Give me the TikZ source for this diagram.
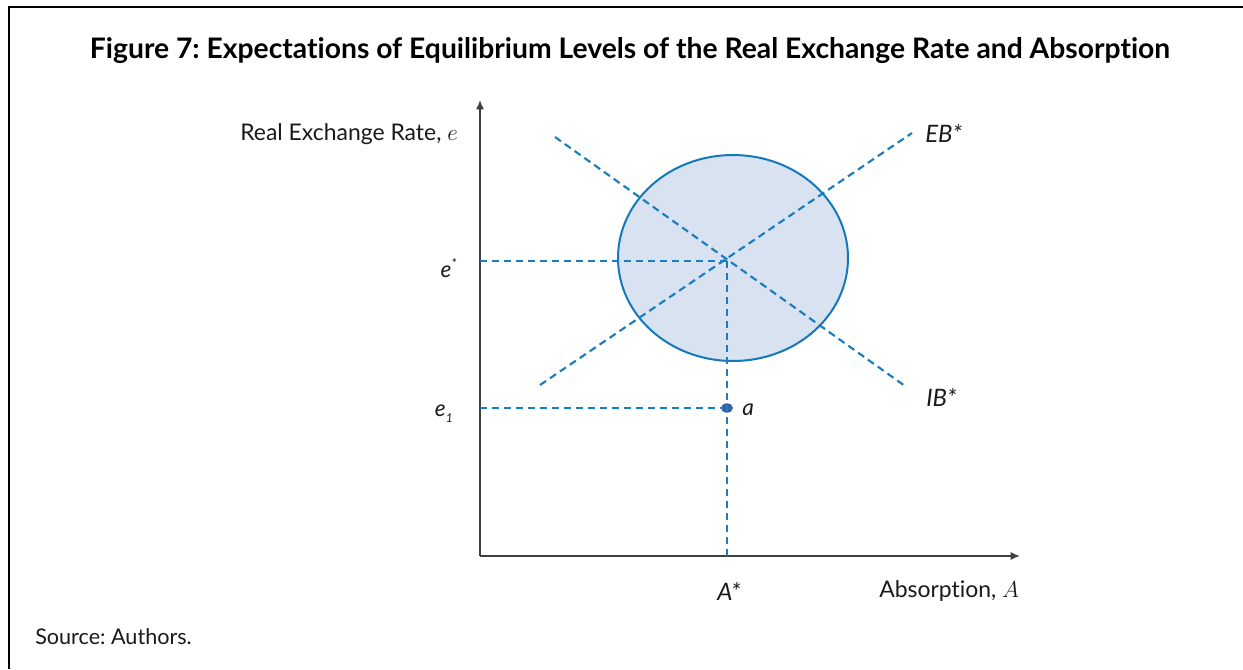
\documentclass[tikz,border=0pt]{standalone}
\usepackage{fontspec}
\setmainfont{Lato}[Ligatures=NoCommon]
\usetikzlibrary{arrows.meta,shapes.geometric}
\definecolor{lineblue}{HTML}{1A7DC0}
\definecolor{ellfill}{HTML}{D9E2F0}
\definecolor{ellline}{HTML}{1479BC}
\definecolor{dotblue}{HTML}{3A5FA8}
\definecolor{axisgray}{HTML}{404040}
\definecolor{txt}{HTML}{1A1A1A}
\tikzset{
  guide/.style={draw=lineblue, line width=1.6pt, dash pattern=on 5.5pt off 3.5pt},
  axisline/.style={draw=axisgray, line width=1.1pt, -{Latex[length=7pt,width=6pt]}},
  lbl/.style={font=\fontsize{17.2}{20}\selectfont, text=txt, inner sep=0pt},
  ilbl/.style={font=\fontsize{16}{19}\selectfont\itshape, text=txt, inner sep=0pt},
}
\begin{document}
\frenchspacing
\begin{tikzpicture}[x=0.75pt,y=-0.75pt]
\useasboundingbox (0,0) rectangle (1243,669);
\fill[white] (0,0) rectangle (1243,669);
\draw[black, line width=2.2pt] (9,669) -- (9,7) -- (1243,7);
\node[font=\fontsize{21.2}{25}\selectfont\bfseries, inner sep=0pt] (title) at (630,51) {Figure 7: Expectations of Equilibrium Levels of the Real Exchange Rate and Absorption};
% ellipse
\node[draw=ellline, fill=ellfill, line width=1.5pt, ellipse, minimum width=172.5pt, minimum height=154.5pt, inner sep=0pt] (ell) at (733,258) {};
% axes
\coordinate (O) at (480,556);
\coordinate (ytop) at (480,100);
\coordinate (xend) at (1020,556);
\draw[axisline] (O) -- (ytop);
\draw[axisline] (O) -- (xend);
% key points
\coordinate (C) at (727,261);
\coordinate (estar) at (480,261);
\coordinate (eone) at (480,408);
\coordinate (Abot) at (727,556);
\coordinate (ebA) at (540,385);
\coordinate (ebB) at (912,133);
\coordinate (ibA) at (555,137);
\coordinate (ibB) at (905,386);
\node[ellipse, fill=dotblue, minimum width=9pt, minimum height=7pt, inner sep=0pt] (a) at (727,408) {};
\draw[guide] (estar) -- (C);
\draw[guide] (C) -- (Abot);
\draw[guide] (eone) -- (a);
\draw[guide] (ebA) -- (ebB);
\draw[guide] (ibA) -- (ibB);
% labels
\node[lbl, anchor=east] (ylab) at (458,134) {Real Exchange Rate, $e$};
\node[lbl, anchor=west] (xlab) at (879,591) {Absorption, $A$};
\node[ilbl, anchor=east, font=\fontsize{17}{20}\selectfont\itshape] (estarlab) at (457,268) {e\raisebox{0.75ex}{\fontsize{10}{10}\selectfont *}};
\node[ilbl, anchor=east, font=\fontsize{17}{20}\selectfont\itshape] (eonelab) at (453,414) {e\raisebox{-0.5ex}{\fontsize{9}{9}\selectfont 1}};
\node[ilbl, anchor=west, font=\fontsize{17}{20}\selectfont\itshape] (alab) at (742,410) {a};
\node[ilbl, anchor=west, font=\fontsize{18}{21}\selectfont\itshape] (eblab) at (925,133) {EB*};
\node[ilbl, anchor=west, font=\fontsize{18}{21}\selectfont\itshape] (iblab) at (926,397) {IB*};
\node[ilbl, font=\fontsize{18}{21}\selectfont\itshape] (Alab) at (729,591) {A*};
\node[lbl, anchor=west, font=\fontsize{16.2}{19}\selectfont] (src) at (35,637) {Source: Authors.};
\end{tikzpicture}
\end{document}
